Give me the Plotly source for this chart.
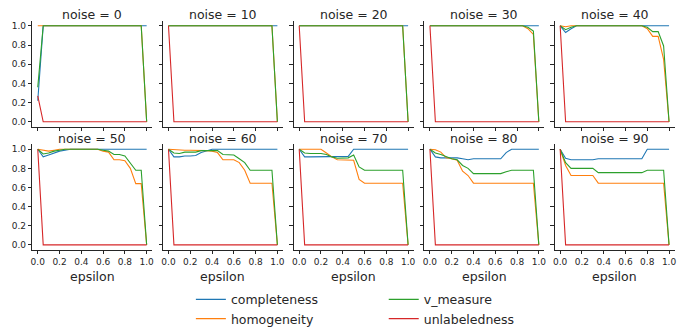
import plotly.graph_objects as go

eps = [0.00, 0.05, 0.10, 0.15, 0.20, 0.25, 0.30, 0.35, 0.40, 0.45, 0.50,
       0.55, 0.60, 0.65, 0.70, 0.75, 0.80, 0.85, 0.90, 0.95, 1.00]
noise_levels = [0, 10, 20, 30, 40, 50, 60, 70, 80, 90]
metric_names = ["completeness", "homogeneity", "v_measure", "unlabeledness"]
metric_colors = ["#1f77b4", "#ff7f0e", "#2ca02c", "#d62728"]
x_ticks = [0.0, 0.2, 0.4, 0.6, 0.8, 1.0]
y_ticks = [0.0, 0.2, 0.4, 0.6, 0.8, 1.0]

# noise = 0
comp_0 = [0.22, 1, 1, 1, 1, 1, 1, 1, 1, 1, 1, 1, 1, 1, 1, 1, 1, 1, 1, 1, 1]
homo_0 = [1.0, 1, 1, 1, 1, 1, 1, 1, 1, 1, 1, 1, 1, 1, 1, 1, 1, 1, 1, 1, 0]
vmeas_0 = [0.36, 1, 1, 1, 1, 1, 1, 1, 1, 1, 1, 1, 1, 1, 1, 1, 1, 1, 1, 1, 0]
unlab_0 = [0.27, 0, 0, 0, 0, 0, 0, 0, 0, 0, 0, 0, 0, 0, 0, 0, 0, 0, 0, 0, 0]
# noise = 10
comp_10 = [1, 1, 1, 1, 1, 1, 1, 1, 1, 1, 1, 1, 1, 1, 1, 1, 1, 1, 1, 1, 1]
homo_10 = [1, 1, 1, 1, 1, 1, 1, 1, 1, 1, 1, 1, 1, 1, 1, 1, 1, 1, 1, 1, 0]
vmeas_10 = [1, 1, 1, 1, 1, 1, 1, 1, 1, 1, 1, 1, 1, 1, 1, 1, 1, 1, 1, 1, 0]
unlab_10 = [1, 0, 0, 0, 0, 0, 0, 0, 0, 0, 0, 0, 0, 0, 0, 0, 0, 0, 0, 0, 0]
# noise = 20
comp_20 = [1, 1, 1, 1, 1, 1, 1, 1, 1, 1, 1, 1, 1, 1, 1, 1, 1, 1, 1, 1, 1]
homo_20 = [1, 1, 1, 1, 1, 1, 1, 1, 1, 1, 1, 1, 1, 1, 1, 1, 1, 1, 1, 1, 0]
vmeas_20 = [1, 1, 1, 1, 1, 1, 1, 1, 1, 1, 1, 1, 1, 1, 1, 1, 1, 1, 1, 1, 0]
unlab_20 = [1, 0, 0, 0, 0, 0, 0, 0, 0, 0, 0, 0, 0, 0, 0, 0, 0, 0, 0, 0, 0]
# noise = 30
comp_30 = [1, 1, 1, 1, 1, 1, 1, 1, 1, 1, 1, 1, 1, 1, 1, 1, 1, 1, 1, 1, 1]
homo_30 = [1, 1, 1, 1, 1, 1, 1, 1, 1, 1, 1, 1, 1, 1, 1, 1, 1, 1, 0.97, 0.91, 0]
vmeas_30 = [1, 1, 1, 1, 1, 1, 1, 1, 1, 1, 1, 1, 1, 1, 1, 1, 1, 1, 0.985, 0.945, 0]
unlab_30 = [1, 0, 0, 0, 0, 0, 0, 0, 0, 0, 0, 0, 0, 0, 0, 0, 0, 0, 0, 0, 0]
# noise = 40
comp_40 = [1, 0.93, 0.97, 1, 1, 1, 1, 1, 1, 1, 1, 1, 1, 1, 1, 1, 1, 1, 1, 1, 1]
homo_40 = [1, 0.99, 1, 1, 1, 1, 1, 1, 1, 1, 1, 1, 1, 1, 1, 1, 0.97, 0.89, 0.89, 0.65, 0]
vmeas_40 = [1, 0.96, 0.985, 1, 1, 1, 1, 1, 1, 1, 1, 1, 1, 1, 1, 1, 0.985, 0.94, 0.94, 0.79, 0]
unlab_40 = [1, 0, 0, 0, 0, 0, 0, 0, 0, 0, 0, 0, 0, 0, 0, 0, 0, 0, 0, 0, 0]
# noise = 50
comp_50 = [1, 0.92, 0.94, 0.96, 0.98, 0.99, 1, 1, 1, 1, 1, 1, 1, 1, 1, 1, 1, 1, 1, 1, 1]
homo_50 = [1, 0.99, 0.98, 0.99, 1, 1, 1, 1, 1, 1, 1, 1, 0.98, 0.97, 0.89, 0.89, 0.88, 0.80, 0.64, 0.64, 0]
vmeas_50 = [1, 0.95, 0.96, 0.98, 0.99, 1, 1, 1, 1, 1, 1, 1, 0.99, 0.98, 0.945, 0.945, 0.93, 0.86, 0.78, 0.78, 0]
unlab_50 = [1, 0, 0, 0, 0, 0, 0, 0, 0, 0, 0, 0, 0, 0, 0, 0, 0, 0, 0, 0, 0]
# noise = 60
comp_60 = [1, 0.92, 0.92, 0.93, 0.93, 0.935, 0.965, 0.98, 1, 1, 1, 1, 1, 1, 1, 1, 1, 1, 1, 1, 1]
homo_60 = [1, 0.995, 0.99, 0.99, 0.99, 0.99, 0.99, 0.985, 0.98, 0.965, 0.89, 0.89, 0.89, 0.86, 0.78, 0.645, 0.645, 0.645, 0.645, 0.645, 0]
vmeas_60 = [1, 0.96, 0.955, 0.97, 0.97, 0.97, 0.985, 0.985, 0.99, 0.985, 0.945, 0.945, 0.94, 0.90, 0.86, 0.78, 0.78, 0.78, 0.78, 0.78, 0]
unlab_60 = [1, 0, 0, 0, 0, 0, 0, 0, 0, 0, 0, 0, 0, 0, 0, 0, 0, 0, 0, 0, 0]
# noise = 70
comp_70 = [1, 0.92, 0.92, 0.92, 0.92, 0.92, 0.92, 0.92, 0.92, 0.925, 1, 1, 1, 1, 1, 1, 1, 1, 1, 1, 1]
homo_70 = [1, 1, 1, 1, 1, 0.96, 0.92, 0.89, 0.89, 0.885, 0.885, 0.685, 0.645, 0.645, 0.645, 0.645, 0.645, 0.645, 0.645, 0.645, 0]
vmeas_70 = [1, 0.96, 0.955, 0.955, 0.955, 0.945, 0.92, 0.905, 0.905, 0.91, 0.94, 0.815, 0.78, 0.78, 0.78, 0.78, 0.78, 0.78, 0.78, 0.78, 0]
unlab_70 = [1, 0, 0, 0, 0, 0, 0, 0, 0, 0, 0, 0, 0, 0, 0, 0, 0, 0, 0, 0, 0]
# noise = 80
comp_80 = [1, 0.92, 0.91, 0.91, 0.91, 0.91, 0.90, 0.89, 0.90, 0.90, 0.90, 0.90, 0.90, 0.90, 0.965, 1, 1, 1, 1, 1, 1]
homo_80 = [1, 0.995, 0.97, 0.91, 0.90, 0.885, 0.77, 0.725, 0.645, 0.645, 0.645, 0.645, 0.645, 0.645, 0.645, 0.645, 0.645, 0.645, 0.645, 0.645, 0]
vmeas_80 = [1, 0.96, 0.945, 0.92, 0.90, 0.89, 0.83, 0.80, 0.745, 0.745, 0.745, 0.745, 0.745, 0.745, 0.765, 0.78, 0.78, 0.78, 0.78, 0.78, 0]
unlab_80 = [1, 0, 0, 0, 0, 0, 0, 0, 0, 0, 0, 0, 0, 0, 0, 0, 0, 0, 0, 0, 0]
# noise = 90
comp_90 = [1, 0.905, 0.89, 0.89, 0.89, 0.89, 0.89, 0.90, 0.90, 0.90, 0.90, 0.90, 0.90, 0.90, 0.90, 0.90, 1, 1, 1, 1, 1]
homo_90 = [1, 0.83, 0.725, 0.725, 0.725, 0.725, 0.725, 0.645, 0.645, 0.645, 0.645, 0.645, 0.645, 0.645, 0.645, 0.645, 0.645, 0.645, 0.645, 0.645, 0]
vmeas_90 = [1, 0.86, 0.80, 0.80, 0.80, 0.80, 0.80, 0.755, 0.755, 0.755, 0.755, 0.755, 0.755, 0.755, 0.755, 0.755, 0.78, 0.78, 0.78, 0.78, 0]
unlab_90 = [1, 0, 0, 0, 0, 0, 0, 0, 0, 0, 0, 0, 0, 0, 0, 0, 0, 0, 0, 0, 0]

panels = [
    (comp_0, homo_0, vmeas_0, unlab_0),
    (comp_10, homo_10, vmeas_10, unlab_10),
    (comp_20, homo_20, vmeas_20, unlab_20),
    (comp_30, homo_30, vmeas_30, unlab_30),
    (comp_40, homo_40, vmeas_40, unlab_40),
    (comp_50, homo_50, vmeas_50, unlab_50),
    (comp_60, homo_60, vmeas_60, unlab_60),
    (comp_70, homo_70, vmeas_70, unlab_70),
    (comp_80, homo_80, vmeas_80, unlab_80),
    (comp_90, homo_90, vmeas_90, unlab_90),
]

W, H = 677, 334
FONT = "DejaVu Sans"
INK = "#262626"


def fy(py):
    return 1 - py / H


col_left = [30.5, 162.0, 293.5, 425.0, 556.0]
panel_w = 120.5
row_top = [21.4, 147.1]
row_bot = [128.9, 254.2]

fig = go.Figure()
annotations = []
layout_axes = {}

for i, noise in enumerate(noise_levels):
    r, c = divmod(i, 5)
    k = "" if i == 0 else str(i + 1)
    xa, ya = "x" + k, "y" + k
    for m, (name, color) in enumerate(zip(metric_names, metric_colors)):
        fig.add_trace(go.Scatter(
            x=eps, y=panels[i][m], mode="lines", name=name,
            line=dict(color=color, width=1.1),
            xaxis=xa, yaxis=ya,
            showlegend=(i == 0),
            legend="legend" if m < 2 else "legend2",
        ))
    x0 = col_left[c] / W
    x1 = min(1.0, (col_left[c] + panel_w) / W)
    common = dict(showline=True, linecolor=INK, linewidth=1, ticks="outside",
                  ticklen=3.5, tickwidth=0.9, tickcolor=INK, showgrid=False,
                  zeroline=False, tickfont=dict(family=FONT, size=9, color=INK))
    layout_axes["xaxis" + k] = dict(
        domain=[x0, x1], range=[-0.05, 1.05], anchor=ya,
        tickvals=x_ticks, ticktext=[f"{v:.1f}" for v in x_ticks],
        showticklabels=(r == 1), **common)
    layout_axes["yaxis" + k] = dict(
        domain=[fy(row_bot[r]), fy(row_top[r])], range=[-0.05, 1.05], anchor=xa,
        tickvals=y_ticks, ticktext=[f"{v:.1f}" for v in y_ticks],
        showticklabels=(c == 0), **common)
    annotations.append(dict(
        text=f"noise = {noise}", x=(x0 + x1) / 2, y=fy(row_top[r] - 6.5),
        xref="paper", yref="paper", xanchor="center", yanchor="middle",
        showarrow=False, font=dict(family=FONT, size=12.5, color=INK)))
    if r == 1:
        annotations.append(dict(
            text="epsilon", x=(x0 + x1) / 2, y=fy(282),
            xref="paper", yref="paper", xanchor="center", yanchor="middle",
            showarrow=False, font=dict(family=FONT, size=12.5, color=INK)))

legend_common = dict(orientation="v", xanchor="left", yanchor="top",
                     y=fy(290), bgcolor="rgba(0,0,0,0)", borderwidth=0,
                     font=dict(family=FONT, size=12.5, color=INK),
                     tracegroupgap=0, itemwidth=30)

fig.update_layout(
    width=W, height=H,
    margin=dict(l=0, r=0, t=0, b=0),
    paper_bgcolor="white", plot_bgcolor="white",
    font=dict(family=FONT, color=INK),
    annotations=annotations,
    legend=dict(x=190 / W, **legend_common),
    legend2=dict(x=384 / W, **legend_common),
    **layout_axes,
)

fig.write_html(
    "out.html",
    config={"displayModeBar": False, "responsive": False},
    post_script="document.body.style.margin='0';document.body.style.overflow='hidden';",
)
